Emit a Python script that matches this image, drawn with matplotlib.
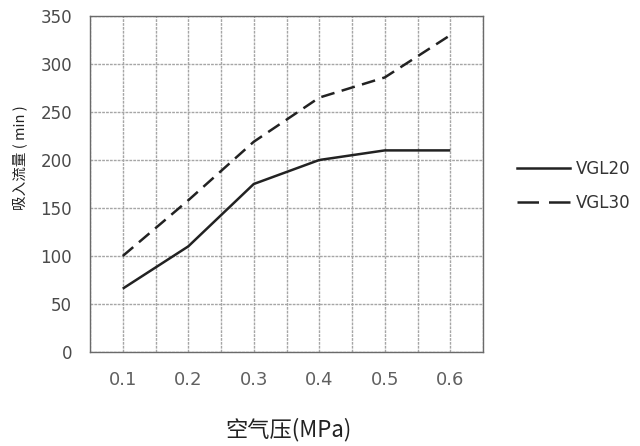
import matplotlib
matplotlib.use("Agg")
import matplotlib.pyplot as plt
from matplotlib.lines import Line2D
import numpy as np

plt.rcParams['font.family'] = ['Noto Sans CJK SC', 'DejaVu Sans']

pressure = [0.1, 0.2, 0.3, 0.4, 0.5, 0.6]
vgl20 = [66, 110, 175, 200, 210, 210]
vgl30 = [100, 158, 219, 265, 286, 330]
series_names = ["VGL20", "VGL30"]
x_tick_labels = ["0.1", "0.2", "0.3", "0.4", "0.5", "0.6"]
y_ticks = [0, 50, 100, 150, 200, 250, 300, 350]

fig = plt.figure(figsize=(6.4, 4.46), dpi=100)
ax = fig.add_axes([90/640, 1-352/446, (483-90)/640, (352-16)/446])

line_col = '#222222'
ax.plot(pressure, vgl20, color=line_col, lw=1.8, solid_capstyle='butt')
ax.plot(pressure, vgl30, color=line_col, lw=1.8, dashes=(5.5, 3))

ax.set_xlim(0.05, 0.65)
ax.set_ylim(0, 350)
ax.set_xticks(pressure)
ax.set_xticklabels(x_tick_labels)
ax.set_xticks(np.arange(0.05, 0.651, 0.1), minor=True)
ax.set_yticks(y_ticks)

grid_kw = dict(color='#a6a6a6', lw=1.0, ls=(0, (2, 0.8)))
ax.grid(True, which='both', axis='x', **grid_kw)
ax.grid(True, which='major', axis='y', **grid_kw)
ax.set_axisbelow(True)

for s in ax.spines.values():
    s.set_color('#6a6a6a')
    s.set_linewidth(1.0)

ax.tick_params(axis='both', which='both', length=0)
ax.tick_params(axis='x', pad=14, labelsize=13, labelcolor='#606060')
ax.tick_params(axis='y', pad=13, labelsize=12, labelcolor='#4a4a4a')
for lab in ax.get_xticklabels():
    lab.set_fontfamily(['DejaVu Sans'])
for lab in ax.get_yticklabels():
    lab.set_fontfamily(['DejaVu Sans'])

fig.text(288/640, 1-430/446, "空气压(MPa)", ha='center', va='center',
         fontsize=16, color='#222222')
fig.text(20/640, 1-158/446, "吸入流量 ( min )", ha='center', va='center',
         rotation=90, fontsize=10.5, color='#222222')

handles = [Line2D([], [], color=line_col, lw=1.8),
           Line2D([], [], color=line_col, lw=1.8, dashes=(8.6, 4.0))]
fig.legend(handles, series_names, loc='center left',
           bbox_to_anchor=(502/640, 1-186/446), frameon=False,
           handlelength=3.2, handletextpad=0.35, labelspacing=0.95,
           prop={'family': 'DejaVu Sans', 'size': 12}, labelcolor='#333333')

fig.savefig("out.png", dpi=100)
